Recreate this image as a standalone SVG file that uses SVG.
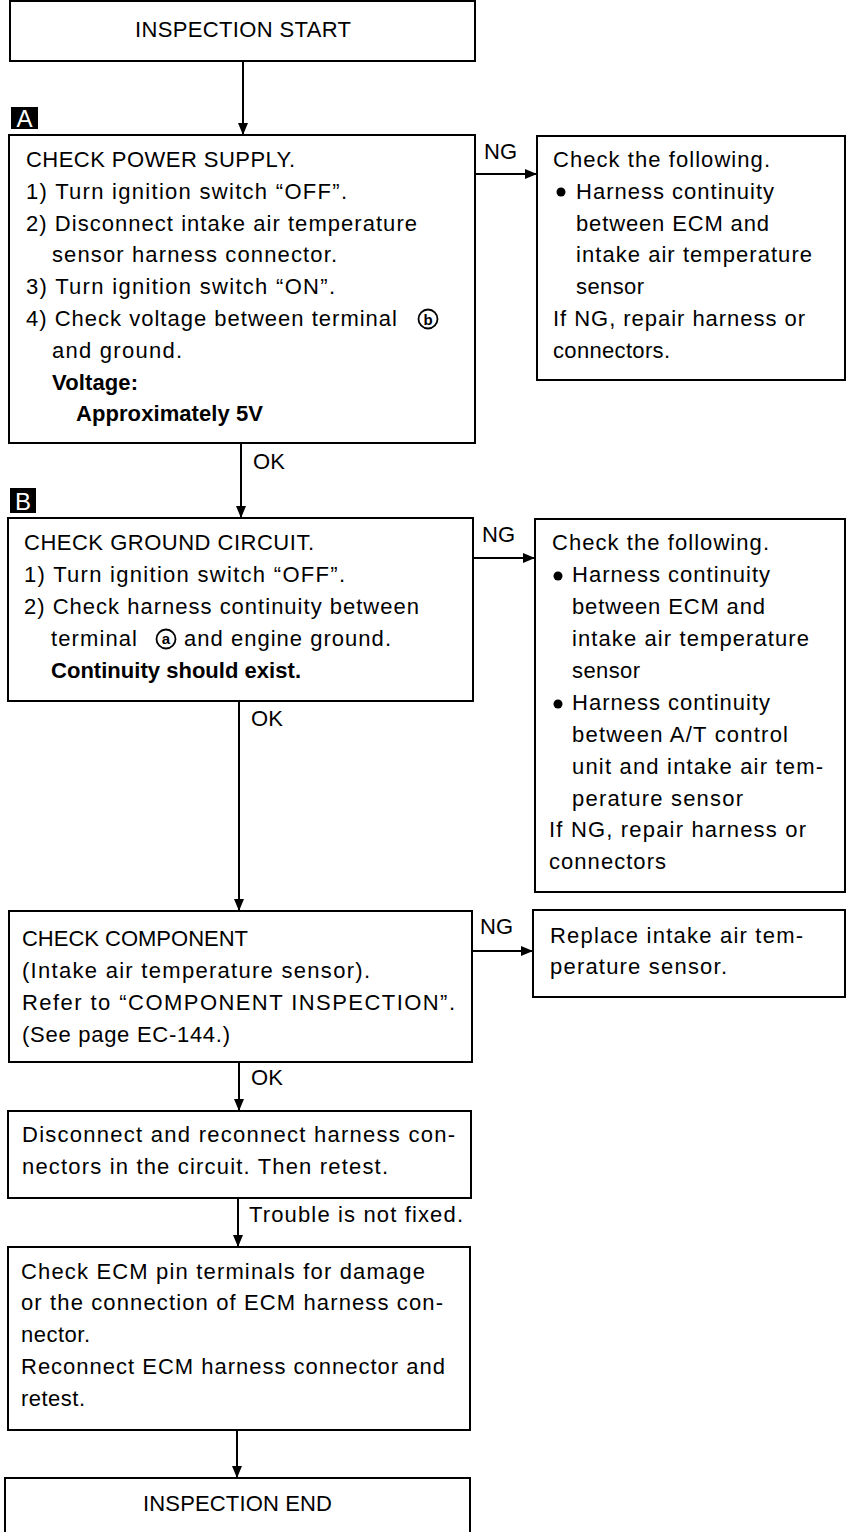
<svg xmlns="http://www.w3.org/2000/svg" width="850" height="1532" viewBox="0 0 850 1532">
<style>
.box{fill:#fff;stroke:#000;stroke-width:2}
.t{font-family:"Liberation Sans",Arial,sans-serif;font-size:22px;fill:#000}
.b{font-weight:bold}
.c{text-anchor:middle}
.ln{stroke:#000;stroke-width:2;fill:none}
.tag{font-family:"Liberation Sans",Arial,sans-serif;font-size:24px;fill:#fff;text-anchor:middle}
.cl{font-family:"Liberation Sans",Arial,sans-serif;font-size:15px;font-weight:bold;text-anchor:middle;fill:#000}
.ring{fill:none;stroke:#000;stroke-width:1.8}
</style>
<defs>
<marker id="ah" markerUnits="userSpaceOnUse" markerWidth="12" markerHeight="12" viewBox="0 0 12 12" refX="12" refY="6" orient="auto">
<path d="M0,1 L12,6 L0,11 Z" fill="#000"/>
</marker>
</defs>
<rect width="850" height="1532" fill="#fff"/>
<g id="connectors">
<line class="ln" x1="243" y1="61" x2="243" y2="135" marker-end="url(#ah)"/>
<line class="ln" x1="475" y1="174" x2="537" y2="174" marker-end="url(#ah)"/>
<line class="ln" x1="241" y1="443" x2="241" y2="518" marker-end="url(#ah)"/>
<line class="ln" x1="473" y1="558" x2="535" y2="558" marker-end="url(#ah)"/>
<line class="ln" x1="239" y1="701" x2="239" y2="911" marker-end="url(#ah)"/>
<line class="ln" x1="472" y1="951" x2="533" y2="951" marker-end="url(#ah)"/>
<line class="ln" x1="239" y1="1062" x2="239" y2="1111" marker-end="url(#ah)"/>
<line class="ln" x1="238" y1="1198" x2="238" y2="1247" marker-end="url(#ah)"/>
<line class="ln" x1="237" y1="1430" x2="237" y2="1478" marker-end="url(#ah)"/>
<text class="t" x="484" y="159" textLength="33">NG</text>
<text class="t" x="253" y="469" textLength="32">OK</text>
<text class="t" x="482" y="542" textLength="33">NG</text>
<text class="t" x="251" y="726" textLength="32">OK</text>
<text class="t" x="480" y="934" textLength="33">NG</text>
<text class="t" x="251" y="1085" textLength="32">OK</text>
<text class="t" x="249" y="1222" textLength="214">Trouble is not fixed.</text>
</g>
<g id="start">
<rect class="box" x="10" y="1" width="465" height="60"/>
<text class="t" x="135" y="37" textLength="216">INSPECTION START</text>
</g>
<g id="labelA">
<rect x="11" y="107" width="27" height="22" fill="#000"/>
<text class="tag" x="24.5" y="127">A</text>
</g>
<g id="checkPower">
<rect class="box" x="9" y="135" width="466" height="308"/>
<text class="t" x="26" y="167" textLength="269">CHECK POWER SUPPLY.</text>
<text class="t" x="26" y="199" textLength="321">1) Turn ignition switch “OFF”.</text>
<text class="t" x="26" y="231" textLength="391">2) Disconnect intake air temperature</text>
<text class="t" x="52" y="262" textLength="285">sensor harness connector.</text>
<text class="t" x="26" y="294" textLength="309">3) Turn ignition switch “ON”.</text>
<text class="t" x="26" y="326" textLength="371">4) Check voltage between terminal</text>
<circle class="ring" cx="428" cy="319" r="9.5"/>
<text class="cl" x="428" y="325">b</text>
<text class="t" x="52" y="358" textLength="130">and ground.</text>
<text class="t b" x="52" y="390" textLength="86">Voltage:</text>
<text class="t b" x="76" y="421" textLength="187">Approximately 5V</text>
</g>
<g id="ngPower">
<rect class="box" x="537" y="136" width="308" height="244"/>
<text class="t" x="553" y="167" textLength="217">Check the following.</text>
<circle cx="561" cy="192" r="4.5" fill="#000"/>
<text class="t" x="576" y="199" textLength="198">Harness continuity</text>
<text class="t" x="576" y="231" textLength="193">between ECM and</text>
<text class="t" x="576" y="262" textLength="236">intake air temperature</text>
<text class="t" x="576" y="294" textLength="68">sensor</text>
<text class="t" x="553" y="326" textLength="252">If NG, repair harness or</text>
<text class="t" x="553" y="358" textLength="117">connectors.</text>
</g>
<g id="labelB">
<rect x="10" y="488" width="26" height="25" fill="#000"/>
<text class="tag" x="23" y="510">B</text>
</g>
<g id="checkGround">
<rect class="box" x="8" y="518" width="465" height="183"/>
<text class="t" x="24" y="550" textLength="290">CHECK GROUND CIRCUIT.</text>
<text class="t" x="24" y="582" textLength="321">1) Turn ignition switch “OFF”.</text>
<text class="t" x="24" y="614" textLength="395">2) Check harness continuity between</text>
<text class="t" x="51" y="646" textLength="86">terminal</text>
<circle class="ring" cx="166" cy="639" r="9.5"/>
<text class="cl" x="166" y="644">a</text>
<text class="t" x="184" y="646" textLength="207">and engine ground.</text>
<text class="t b" x="51" y="678" textLength="250">Continuity should exist.</text>
</g>
<g id="ngGround">
<rect class="box" x="535" y="519" width="310" height="373"/>
<text class="t" x="552" y="550" textLength="217">Check the following.</text>
<circle cx="558" cy="576" r="4.5" fill="#000"/>
<text class="t" x="572" y="582" textLength="198">Harness continuity</text>
<text class="t" x="572" y="614" textLength="193">between ECM and</text>
<text class="t" x="572" y="646" textLength="237">intake air temperature</text>
<text class="t" x="572" y="678" textLength="68">sensor</text>
<circle cx="558" cy="704" r="4.5" fill="#000"/>
<text class="t" x="572" y="710" textLength="198">Harness continuity</text>
<text class="t" x="572" y="742" textLength="216">between A/T control</text>
<text class="t" x="572" y="774" textLength="251">unit and intake air tem-</text>
<text class="t" x="572" y="806" textLength="171">perature sensor</text>
<text class="t" x="549" y="837" textLength="257">If NG, repair harness or</text>
<text class="t" x="549" y="869" textLength="117">connectors</text>
</g>
<g id="checkComponent">
<rect class="box" x="9" y="911" width="463" height="151"/>
<text class="t" x="22" y="946" textLength="226">CHECK COMPONENT</text>
<text class="t" x="22" y="978" textLength="348">(Intake air temperature sensor).</text>
<text class="t" x="22" y="1010" textLength="433">Refer to “COMPONENT INSPECTION”.</text>
<text class="t" x="22" y="1042" textLength="208">(See page EC-144.)</text>
</g>
<g id="ngComponent">
<rect class="box" x="533" y="910" width="312" height="87"/>
<text class="t" x="550" y="943" textLength="253">Replace intake air tem-</text>
<text class="t" x="550" y="974" textLength="177">perature sensor.</text>
</g>
<g id="reconnect">
<rect class="box" x="8" y="1111" width="463" height="87"/>
<text class="t" x="22" y="1142" textLength="433">Disconnect and reconnect harness con-</text>
<text class="t" x="22" y="1174" textLength="366">nectors in the circuit. Then retest.</text>
</g>
<g id="checkECM">
<rect class="box" x="8" y="1247" width="462" height="183"/>
<text class="t" x="21" y="1279" textLength="404">Check ECM pin terminals for damage</text>
<text class="t" x="21" y="1310" textLength="422">or the connection of ECM harness con-</text>
<text class="t" x="21" y="1342" textLength="69">nector.</text>
<text class="t" x="21" y="1374" textLength="424">Reconnect ECM harness connector and</text>
<text class="t" x="21" y="1406" textLength="64">retest.</text>
</g>
<g id="end">
<rect class="box" x="5" y="1478" width="465" height="60"/>
<text class="t" x="143" y="1511" textLength="189">INSPECTION END</text>
</g>
</svg>
